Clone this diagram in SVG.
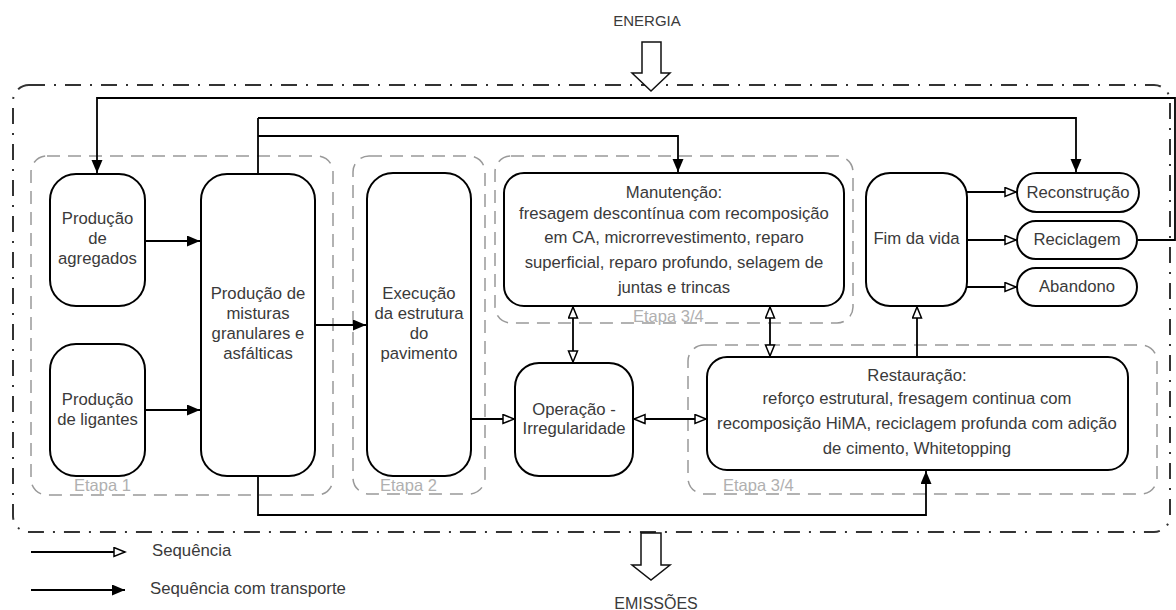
<svg xmlns="http://www.w3.org/2000/svg" width="1176" height="610" viewBox="0 0 1176 610">
  <style>
    text { font-family: "Liberation Sans", Arial, sans-serif; fill: #3a3a3a; }
    .t { font-size: 16.7px; text-anchor: middle; }
    .lbl { font-size: 16.5px; fill: #b0b0b0; }
    .leg { font-size: 16.8px; }
    .node { fill: #ffffff; stroke: #000000; stroke-width: 2; }
    .stage { fill: none; stroke: #999999; stroke-width: 1.5; stroke-dasharray: 13 8; }
    .wire { fill: none; stroke: #000000; stroke-width: 1.8; }
    .solid { marker-end: url(#fill); }
    .seq { marker-end: url(#hollow); }
    .both { marker-start: url(#hollow); marker-end: url(#hollow); }
    .block { fill: #ffffff; stroke: #111111; stroke-width: 1.5; }
  </style>
  <defs>
    <marker id="fill" markerUnits="userSpaceOnUse" markerWidth="15" markerHeight="12" refX="13" refY="5.5" orient="auto-start-reverse">
      <path d="M0,0 L13,5.5 L0,11 z" fill="#000000"/>
    </marker>
    <marker id="hollow" markerUnits="userSpaceOnUse" markerWidth="14" markerHeight="12" refX="12" refY="5.5" orient="auto-start-reverse">
      <path d="M1,1 L12,5.5 L1,10 z" fill="#ffffff" stroke="#000000" stroke-width="1.5"/>
    </marker>
  </defs>

  <!-- system boundary -->
  <rect x="13" y="85" width="1157" height="447" rx="16" fill="none" stroke="#333333" stroke-width="2" stroke-dasharray="16 9 2 9"/>

  <!-- energy in / emissions out -->
  <g id="energia">
    <text x="647" y="26" style="font-size:15px" text-anchor="middle">ENERGIA</text>
    <polygon class="block" points="642,42 661,42 661,73 670,73 651,91 632,73 642,73"/>
  </g>
  <g id="emissoes">
    <polygon class="block" points="641,533 661,533 661,565 670,565 651,580 632,565 641,565"/>
    <text x="656" y="609" style="font-size:16px" text-anchor="middle">EMISSÕES</text>
  </g>

  <!-- stage frames -->
  <g id="etapa1">
    <rect class="stage" x="31" y="156" width="302" height="339" rx="16"/>
    <text class="lbl" x="74" y="491">Etapa 1</text>
  </g>
  <g id="etapa2">
    <rect class="stage" x="353" y="156" width="132" height="338" rx="16"/>
    <text class="lbl" x="380" y="491">Etapa 2</text>
  </g>
  <g id="etapa34a">
    <rect class="stage" x="495" y="156" width="358" height="167" rx="16"/>
    <text class="lbl" x="633" y="322">Etapa 3/4</text>
  </g>
  <g id="etapa34b">
    <rect class="stage" x="688" y="345" width="469" height="149" rx="16"/>
    <text class="lbl" x="723" y="491">Etapa 3/4</text>
  </g>

  <!-- connectors -->
  <g id="connectors">
    <path class="wire solid" d="M145,241 H200"/>
    <path class="wire solid" d="M145,410 H200"/>
    <path class="wire solid" d="M315,325 H366"/>
    <path class="wire seq" d="M471,419 H514"/>
    <path class="wire both" d="M634,419 H706"/>
    <path class="wire both" d="M573,307 V362"/>
    <path class="wire both" d="M770,307 V356"/>
    <path class="wire seq" d="M917,357 V307"/>
    <path class="wire seq" d="M967,192 H1016"/>
    <path class="wire seq" d="M967,240 H1016"/>
    <path class="wire seq" d="M967,287 H1016"/>
    <path class="wire" d="M258,174 V118"/>
    <path class="wire solid" d="M258,118 H1076 V172"/>
    <path class="wire solid" d="M258,136 H678 V172"/>
    <path class="wire solid" d="M258,476 V515 H926 V471"/>
    <path class="wire solid" d="M1138,240 H1175 V98 H97 V173"/>
  </g>

  <!-- process nodes -->
  <g id="agregados">
    <rect class="node" x="50" y="174" width="95" height="132" rx="26"/>
    <text class="t" x="97.5" y="224">Produção</text>
    <text class="t" x="97.5" y="244">de</text>
    <text class="t" x="97.5" y="264">agregados</text>
  </g>
  <g id="ligantes">
    <rect class="node" x="50" y="344" width="95" height="132" rx="26"/>
    <text class="t" x="97.5" y="405">Produção</text>
    <text class="t" x="97.5" y="425">de ligantes</text>
  </g>
  <g id="misturas">
    <rect class="node" x="201" y="174" width="114" height="302" rx="26"/>
    <text class="t" x="258" y="299">Produção de</text>
    <text class="t" x="258" y="319">misturas</text>
    <text class="t" x="258" y="339">granulares e</text>
    <text class="t" x="258" y="359">asfálticas</text>
  </g>
  <g id="execucao">
    <rect class="node" x="367" y="173" width="104" height="303" rx="26"/>
    <text class="t" x="419" y="299">Execução</text>
    <text class="t" x="419" y="319">da estrutura</text>
    <text class="t" x="419" y="339">do</text>
    <text class="t" x="419" y="359">pavimento</text>
  </g>
  <g id="manutencao">
    <rect class="node" x="504" y="173" width="340" height="133" rx="20"/>
    <text class="t" x="674" y="198">Manutenção:</text>
    <text class="t" x="674" y="219">fresagem descontínua com recomposição</text>
    <text class="t" x="674" y="243">em CA, microrrevestimento, reparo</text>
    <text class="t" x="674" y="268">superficial, reparo profundo, selagem de</text>
    <text class="t" x="674" y="293">juntas e trincas</text>
  </g>
  <g id="operacao">
    <rect class="node" x="515" y="363" width="118" height="113" rx="24"/>
    <text class="t" x="574" y="415">Operação -</text>
    <text class="t" x="574" y="434">Irregularidade</text>
  </g>
  <g id="restauracao">
    <rect class="node" x="707" y="357" width="421" height="113" rx="20"/>
    <text class="t" x="917" y="381">Restauração:</text>
    <text class="t" x="917" y="404">reforço estrutural, fresagem continua com</text>
    <text class="t" x="917" y="429">recomposição HiMA, reciclagem profunda com adição</text>
    <text class="t" x="917" y="454">de cimento, Whitetopping</text>
  </g>
  <g id="fim">
    <rect class="node" x="866" y="173" width="101" height="133" rx="24"/>
    <text class="t" x="916.5" y="244">Fim da vida</text>
  </g>
  <g id="reconstrucao">
    <rect class="node" x="1017" y="173" width="122" height="39" rx="19.5"/>
    <text class="t" x="1078" y="198">Reconstrução</text>
  </g>
  <g id="reciclagem">
    <rect class="node" x="1017" y="221" width="120" height="38" rx="19"/>
    <text class="t" x="1077" y="245">Reciclagem</text>
  </g>
  <g id="abandono">
    <rect class="node" x="1017" y="268" width="120" height="38" rx="19"/>
    <text class="t" x="1077" y="292">Abandono</text>
  </g>

  <!-- legend -->
  <g id="legenda">
    <path class="wire seq" d="M31,552 H125"/>
    <text class="leg" x="152" y="556">Sequência</text>
    <path class="wire solid" d="M31,590 H125"/>
    <text class="leg" x="150" y="594">Sequência com transporte</text>
  </g>
</svg>
